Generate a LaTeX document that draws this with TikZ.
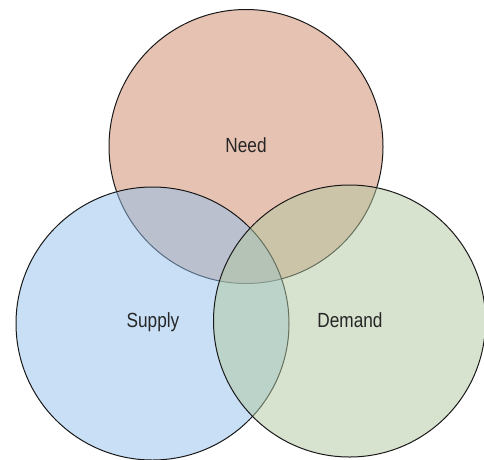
\documentclass[tikz,border=0pt]{standalone}
\usepackage{fontspec}
\newfontfamily\labelfont[FakeStretch=0.84]{Liberation Sans}
\usepackage{tikz}
\usetikzlibrary{positioning}
\definecolor{needred}{RGB}{205, 133, 101}
\definecolor{supplyblue}{RGB}{145, 191, 235}
\definecolor{demandgreen}{RGB}{177, 199, 159}

\begin{document}
\begin{tikzpicture}[
    x=1pt, y=-1pt,
    font=\labelfont\fontsize{20.5}{24}\selectfont,
    setcircle/.style={circle, draw=black!90, line width=1pt, fill opacity=0.5, text opacity=1, inner sep=0pt},
    setlabel/.style={text=black!85, inner sep=0pt},
]
\useasboundingbox (0,0) rectangle (484,459);

% --- The three sets, drawn back to front ---
\node[setcircle, fill=needred, minimum size=274pt] (need) at (246, 146.5) {};
\node[setcircle, fill=supplyblue, minimum size=273pt] (supply) at (152.5, 323.5) {};
\node[setcircle, fill=demandgreen, minimum size=272pt] (demand) at (349.5, 321) {};

% --- Labels ---
\node[setlabel] (needlabel) at (246, 145) {Need};
\node[setlabel] (supplylabel) at (153, 322) {Supply};
\node[setlabel] (demandlabel) at (350, 320) {Demand};

\end{tikzpicture}
\end{document}
